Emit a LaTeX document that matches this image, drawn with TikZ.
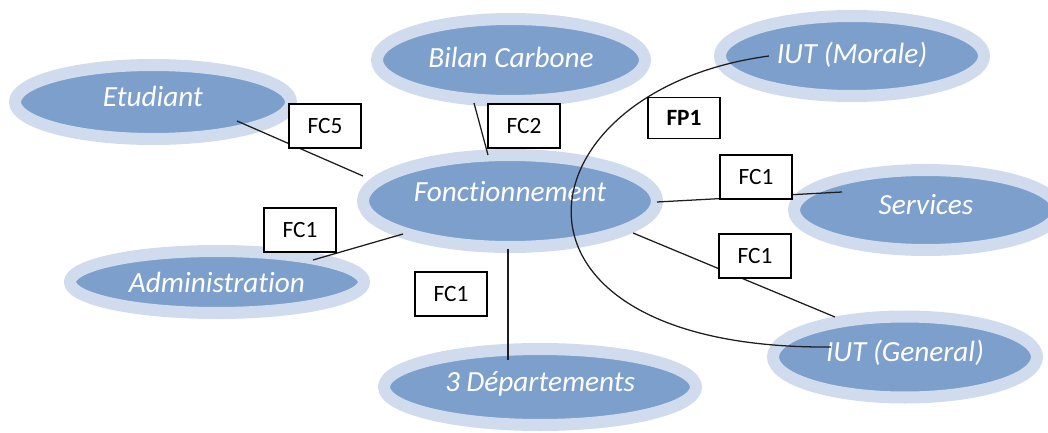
\documentclass[tikz,border=0pt]{standalone}
\usepackage{fontspec}
\setmainfont{Carlito}[Ligatures=NoCommon]
\usetikzlibrary{shapes.geometric}
\definecolor{bulle}{RGB}{124,159,204}
\definecolor{halo}{RGB}{208,220,237}
\definecolor{trait}{RGB}{30,30,30}

\begin{document}
\begin{tikzpicture}[x=0.025cm, y=-0.025cm,
    acteur/.style 2 args={ellipse, fill=bulle, draw=halo, line width=0.3cm, inner sep=0pt,
        minimum width=#1*0.025cm, minimum height=#2*0.025cm,
        text=white, font=\fontsize{20.8}{24}\selectfont\itshape,
        text height=15pt, text depth=9pt},
    fonction/.style={draw=black, line width=0.9pt, fill=white, inner sep=0pt,
        minimum width=1.8cm, minimum height=1.1cm, font=\fontsize{16.6}{20}\selectfont},
    lien/.style={draw=trait, line width=0.9pt}]
    \useasboundingbox (0,0) rectangle (1048,433);

    % Acteurs
    \node[acteur={276}{74}] (etu) at (153,102) {Etudiant};
    \node[acteur={268}{82}, text depth=4.7pt] (bilan) at (511,60) {Bilan Carbone};
    \node[acteur={264}{80}, text depth=4.7pt] (morale) at (852,56) {IUT (Morale)};
    \node[acteur={294}{92}, text depth=14.7pt] (fonct) at (510,201) {Fonctionnement};
    \node[acteur={264}{80}] (serv) at (926,210) {Services};
    \node[acteur={264}{81}] (gen) at (905,357) {IUT (General)};
    \node[acteur={294}{62}, text depth=0.5pt] (admin) at (217,282) {Administration};
    \node[acteur={312}{76}] (dept) at (540,387) {3 Départements};

    % Liens
    \draw[lien] ([shift={(84,19)}]etu.center) -- ([shift={(-147,-25)}]fonct.center);
    \draw[lien] ([shift={(-37,43)}]bilan.center) -- ([shift={(-22,-46)}]fonct.center);
    \draw[lien] ([shift={(147,1)}]fonct.center) -- ([shift={(-84,-18)}]serv.center);
    \draw[lien] ([shift={(123,32)}]fonct.center) -- ([shift={(-70,-40)}]gen.center);
    \draw[lien] ([shift={(96,-22)}]admin.center) -- ([shift={(-107,33)}]fonct.center);
    \draw[lien] ([shift={(-2,48)}]fonct.center) -- ([shift={(-32,-27)}]dept.center);
    % FP1
    \draw[lien] ([shift={(-83,0)}]morale.center) .. controls (515,90) and (475,350) .. ([shift={(-74,-10)}]gen.center);

    % Fonctions
    \node[fonction] (fc5) at (325,126) {FC5};
    \node[fonction] (fc2) at (524,126) {FC2};
    \node[fonction, minimum height=1.03cm, font=\fontsize{16.6}{20}\selectfont\bfseries] (fp1) at (684,118) {FP1};
    \node[fonction] (fcserv) at (756,177) {FC1};
    \node[fonction] (fcgen) at (755,256) {FC1};
    \node[fonction] (fcadmin) at (300,230) {FC1};
    \node[fonction] (fcdept) at (451,294) {FC1};
\end{tikzpicture}
\end{document}
